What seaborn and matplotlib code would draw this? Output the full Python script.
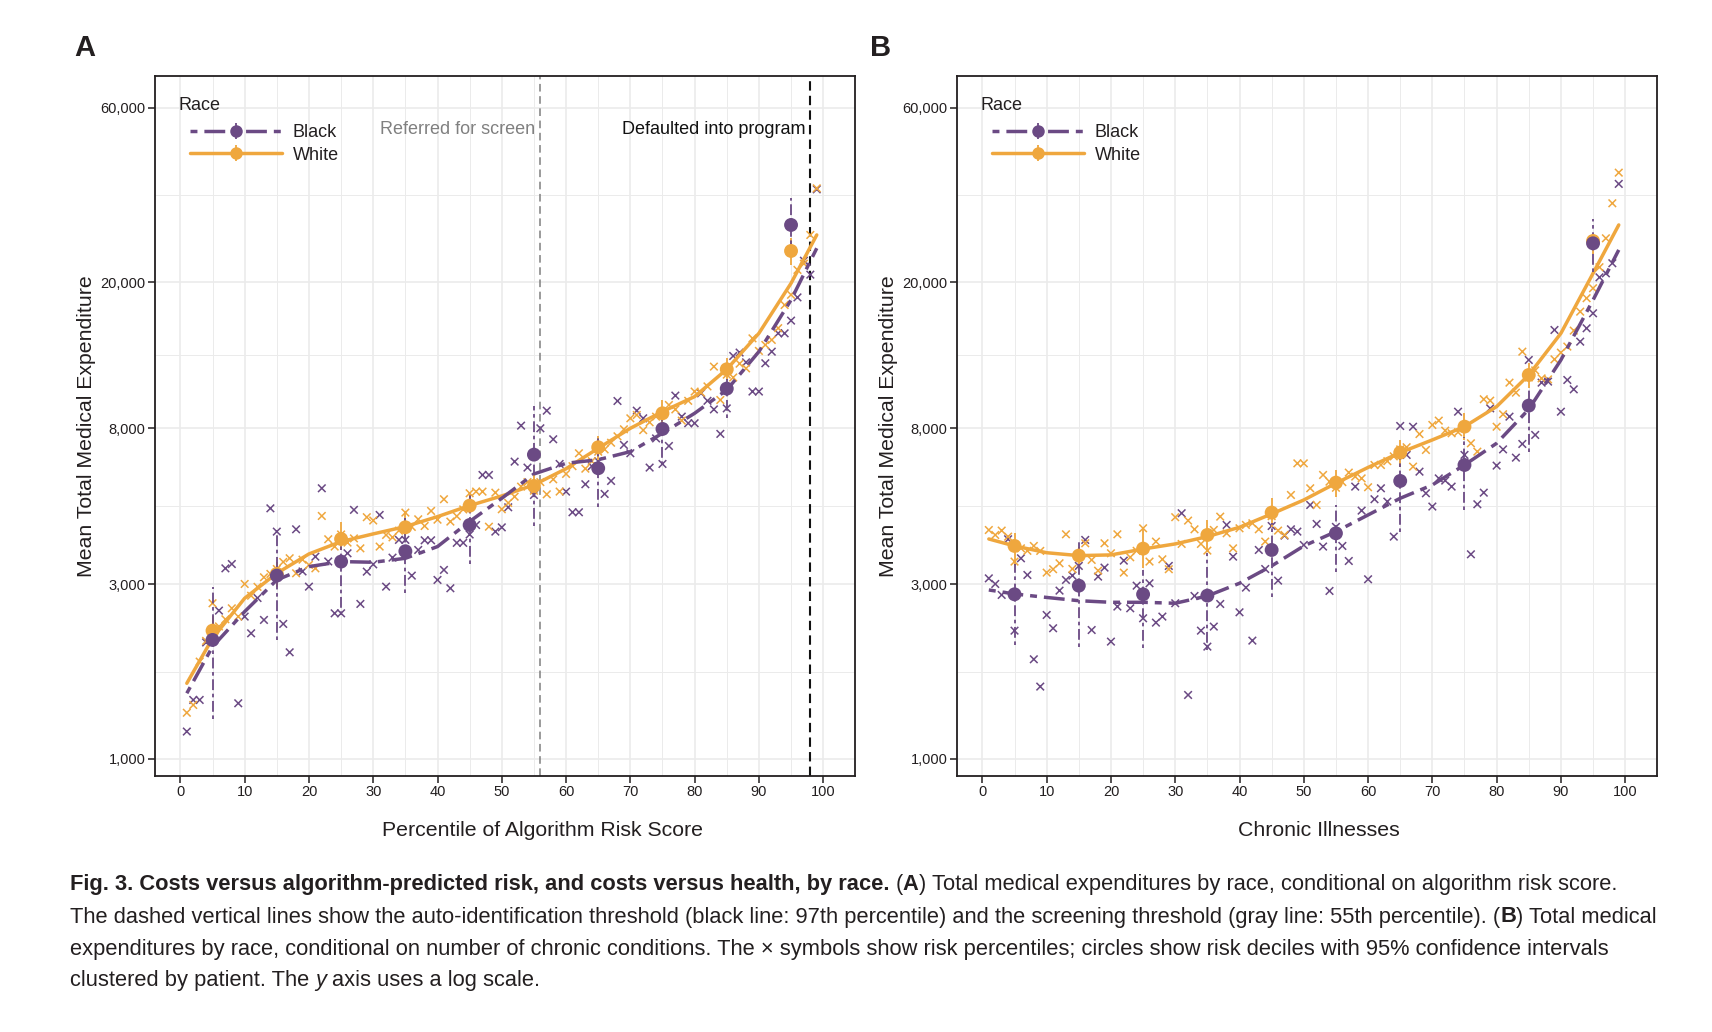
import numpy as np
import pandas as pd
import matplotlib
matplotlib.use("Agg")
import matplotlib.pyplot as plt
import seaborn as sns
from matplotlib.lines import Line2D
from matplotlib.legend_handler import HandlerTuple
from matplotlib.ticker import FixedLocator, FixedFormatter, NullFormatter
from matplotlib.transforms import IdentityTransform
from matplotlib import font_manager as fm

# ---------------- data ----------------
pct = list(range(1, 100))

A_black = [1188, 1449, 1449, 2080, 2250, 2541, 3314, 3405, 1419, 2447,
           2203, 2750, 2396, 4833, 4175, 2337, 1955, 4236, 3250, 2954,
           3566, 5482, 3460, 2498, 2498, 3643, 4786, 2650, 3246, 3398,
           4636, 2954, 3545, 3963, 3963, 3166, 3720, 3953, 3953, 3081,
           3281, 2924, 3890, 3890, 4100, 4352, 5961, 5961, 4175, 4288,
           4865, 6482, 8128, 6244, 5256, 7993, 8929, 7460, 6388, 5368,
           4715, 4715, 5623, 6300, 6500, 5290, 5741, 9490, 7200, 6832,
           8930, 8511, 6244, 7500, 6388, 7152, 9817, 8603, 8251, 8251,
           9957, 9500, 9000, 7717, 9059, 12594, 12866, 12100, 10070, 10070,
           12030, 12940, 14520, 14520, 15730, 18200, 22920, 21000, 35900]
A_white = [1337, 1404, 1844, 2100, 2661, 2300, 2406, 2578, 2447, 3004,
           2790, 2950, 3133, 3200, 3300, 3450, 3531, 3213, 3500, 3386,
           3314, 4607, 3979, 3800, 4100, 3896, 4000, 3758, 4571, 4477,
           3800, 4088, 4027, 4200, 4705, 4300, 4511, 4325, 4754, 4500,
           5117, 4446, 4600, 4800, 5313, 5370, 5368, 4306, 5333, 4805,
           5000, 5200, 5540, 5700, 5400, 5700, 5278, 5800, 5370, 6000,
           6300, 6832, 6200, 6500, 6900, 7000, 7300, 7600, 7943, 8511,
           8690, 7900, 8300, 8600, 8800, 9254, 9000, 8388, 9500, 10070,
           10000, 10400, 11780, 9550, 11200, 11000, 12000, 11650, 14070, 13000,
           13500, 13930, 15000, 17350, 18500, 21630, 22500, 26950, 36130]
B_black = [3112, 3004, 2804, 3979, 2240, 3530, 3179, 1871, 1576, 2472,
           2274, 2881, 3081, 3166, 3365, 3962, 2249, 3146, 3329, 2091,
           2606, 3479, 2578, 2972, 2421, 3017, 2356, 2447, 3365, 2661,
           4686, 1495, 2786, 2240, 2026, 2298, 2649, 4354, 3567, 2514,
           2936, 2104, 3720, 3300, 4325, 3068, 4071, 4236, 4175, 3838,
           4936, 4381, 3800, 2875, 4300, 3815, 3471, 5540, 4764, 3094,
           5117, 5482, 5041, 4045, 8110, 6761, 8072, 6086, 5313, 4887,
           5834, 5754, 5540, 8872, 6761, 3620, 4958, 5333, 9060, 6321,
           7000, 8600, 6646, 7244, 12280, 7666, 10650, 10720, 14830, 8872,
           10830, 10210, 13780, 14990, 16470, 20650, 21170, 22560, 37150]
B_white = [4217, 4088, 4202, 4045, 3458, 3758, 3700, 3815, 3698, 3226,
           3296, 3421, 4105, 3302, 3600, 3880, 3494, 3266, 3880, 3643,
           4105, 3226, 3553, 3700, 4263, 3458, 3921, 3508, 3296, 4571,
           3864, 4474, 4236, 3864, 3705, 4219, 4587, 4131, 3758, 4263,
           4354, 4400, 4236, 3921, 4600, 4202, 4088, 5256, 6412, 6412,
           5482, 4936, 5961, 5715, 5500, 5700, 6050, 5900, 5834, 5518,
           6347, 6347, 6500, 6700, 7000, 7096, 6281, 7709, 6975, 8163,
           8388, 7875, 7747, 7800, 8000, 7274, 6902, 9594, 9510, 8072,
           8730, 10650, 10000, 12940, 11000, 11500, 10940, 10870, 12330, 12860,
           13360, 14770, 16640, 18110, 19280, 22000, 26390, 32890, 39870]

deciles = [5, 15, 25, 35, 45, 55, 65, 75, 85, 95]
A_black_mean = [2113, 3166, 3458, 3690, 4352, 6773, 6218, 7960, 10257, 28700]
A_black_lo = [1285, 2113, 2472, 2833, 3406, 4335, 4865, 6347, 8511, 25500]
A_black_hi = [2954, 4217, 3900, 4540, 5313, 9218, 7586, 8700, 10900, 34000]
A_white_mean = [2240, 3200, 3986, 4290, 4915, 5563, 7094, 8784, 11582, 24370]
A_white_lo = [2050, 2950, 3720, 4088, 4684, 5250, 6551, 8250, 10830, 22310]
A_white_hi = [2450, 3450, 4446, 4733, 5370, 5950, 7635, 9550, 12410, 26390]
B_black_mean = [2815, 2972, 2815, 2792, 3720, 4131, 5741, 6347, 9218, 25570]
B_black_lo = [2048, 2018, 2005, 1985, 2775, 3246, 4175, 4786, 6900, 21400]
B_black_hi = [3400, 3962, 3281, 3643, 4396, 4936, 6975, 7586, 10170, 29730]
B_white_mean = [3815, 3590, 3751, 4088, 4705, 5680, 6861, 8077, 11175, 25950]
B_white_lo = [3386, 3380, 3314, 3720, 4306, 5200, 6281, 7430, 10280, 23900]
B_white_hi = [4131, 3800, 4290, 4493, 5148, 6150, 7430, 8784, 12030, 26800]

fit_x = [1, 5, 10, 15, 20, 25, 30, 35, 40, 45, 50, 55, 60, 65, 70, 75, 80, 85, 90, 95, 99]
A_black_fit = [1511, 2026, 2525, 3081, 3350, 3458, 3443, 3530, 3800, 4450, 5148,
               5998, 6415, 6560, 6902, 7747, 8784, 10172, 12942, 17910, 24790]
A_white_fit = [1609, 2135, 2746, 3213, 3628, 3921, 4115, 4309, 4587, 4917, 5224,
               5600, 6200, 7050, 7993, 8876, 9755, 11582, 14524, 19890, 26950]
B_black_fit = [2893, 2821, 2760, 2704, 2677, 2677, 2661, 2786, 3017, 3365, 3815,
               4175, 4636, 5148, 5598, 6347, 7274, 9008, 12280, 17900, 24530]
B_white_fit = [3986, 3815, 3656, 3590, 3606, 3742, 3864, 4046, 4290, 4666, 5093,
               5660, 6250, 6861, 7430, 8077, 9162, 11175, 14520, 21170, 28700]

races = ["Black", "White"]
xtick_vals = [0, 10, 20, 30, 40, 50, 60, 70, 80, 90, 100]
ytick_vals = [1000, 3000, 8000, 20000, 60000]
ytick_labels = ["1,000", "3,000", "8,000", "20,000", "60,000"]
screen_threshold = 56
auto_threshold = 98

# ---------------- style ----------------
PURPLE = "#6B4A84"
ORANGE = "#EFA73E"
GRID = "#EBEBEB"
INK = "#231F20"
TWODASH = (2, 2, 6, 2)
palette = {"Black": PURPLE, "White": ORANGE}

sns.set_theme(style="white")


def has_font(name):
    try:
        fm.findfont(fm.FontProperties(family=name), fallback_to_default=False)
        return True
    except Exception:
        return False


MAIN = "Liberation Sans" if has_font("Liberation Sans") else "DejaVu Sans"
NARROW = "Liberation Sans Narrow" if has_font("Liberation Sans Narrow") else MAIN
plt.rcParams["font.family"] = [MAIN, "DejaVu Sans"]

W, H = 1712, 1032
fig = plt.figure(figsize=(W / 100, H / 100), dpi=100)
fig.patch.set_facecolor("white")


def px_axes(left, top, right, bottom):
    return fig.add_axes([left / W, 1 - bottom / H, (right - left) / W, (bottom - top) / H])


axA = px_axes(155, 76, 855, 775.7)
axB = px_axes(957, 76, 1657, 775.7)


def draw_panel(ax, pts_b, pts_w, fit_b, fit_w, mb, lb, hb, mw, lw_, hw, xlabel, xlab_pos):
    ax.set_yscale("log")
    ax.set_xlim(-3.95, 104.95)
    ax.set_ylim(900, 73200)

    # percentile scatter (x markers)
    pts = pd.DataFrame({"x": pct + pct, "y": pts_b + pts_w,
                        "race": ["Black"] * len(pct) + ["White"] * len(pct)})
    sns.scatterplot(data=pts, x="x", y="y", hue="race", palette=palette,
                    marker="x", s=30, linewidth=1.1, legend=False, ax=ax, zorder=3)

    # smooth fits
    fits = pd.DataFrame({"x": fit_x + fit_x, "y": fit_w + fit_b,
                         "race": ["White"] * len(fit_x) + ["Black"] * len(fit_x)})
    sns.lineplot(data=fits, x="x", y="y", hue="race", style="race",
                 hue_order=["White", "Black"], style_order=["White", "Black"],
                 palette=palette, dashes={"White": "", "Black": TWODASH},
                 linewidth=2.5, errorbar=None, legend=False, ax=ax, zorder=4)

    # decile confidence intervals
    ax.vlines(deciles, lw_, hw, colors=ORANGE, linewidth=1.3, zorder=5)
    ax.vlines(deciles, lb, hb, colors=PURPLE, linewidth=1.3,
              linestyles=[(0, TWODASH)], zorder=6)

    dec = pd.DataFrame({"x": deciles + deciles, "y": mw + mb,
                        "race": ["White"] * len(deciles) + ["Black"] * len(deciles)})
    sns.scatterplot(data=dec, x="x", y="y", hue="race", palette=palette,
                    marker="o", s=100, edgecolor="none", linewidth=0,
                    legend=False, ax=ax, zorder=7)

    # axes styling
    ax.xaxis.set_major_locator(FixedLocator(xtick_vals))
    ax.xaxis.set_minor_locator(FixedLocator([v + 5 for v in xtick_vals[:-1]]))
    ax.yaxis.set_major_locator(FixedLocator(ytick_vals))
    ax.yaxis.set_major_formatter(FixedFormatter(ytick_labels))
    mids = [float(np.sqrt(a * b)) for a, b in zip(ytick_vals[:-1], ytick_vals[1:])]
    ax.yaxis.set_minor_locator(FixedLocator(mids))
    ax.yaxis.set_minor_formatter(NullFormatter())
    ax.xaxis.set_minor_formatter(NullFormatter())
    ax.grid(which="major", color=GRID, linewidth=1.2)
    ax.grid(which="minor", color=GRID, linewidth=0.7)
    ax.set_axisbelow(True)
    for s in ax.spines.values():
        s.set_color(INK)
        s.set_linewidth(1.3)
        s.set_visible(True)
    ax.tick_params(which="major", left=True, bottom=True, top=False, right=False,
                   direction="out", length=5, width=1.1, color=INK,
                   labelsize=10.5, labelcolor=INK, pad=2)
    ax.tick_params(which="minor", length=0)
    ax.set_xlabel(xlabel, fontsize=15.3, color=INK)
    ax.set_ylabel("Mean Total Medical Expenditure", fontsize=15.3, color=INK)
    ax.xaxis.label.set_va("center")
    ax.xaxis.set_label_coords(xlab_pos, (775.7 - 830) / 699.7)
    ax.yaxis.label.set_va("center")
    ax.yaxis.set_label_coords(-0.098, 0.5)

    # legend
    ax.text(0.034, (775.7 - 105) / 699.7, "Race", transform=ax.transAxes,
            ha="left", va="center", fontsize=13, color=INK)
    hb_ = (Line2D([], [], color=PURPLE, lw=2.5, ls=(0, TWODASH)),
           Line2D([], [], color=PURPLE, marker="|", ms=12, mew=1.3, ls="none"),
           Line2D([], [], color=PURPLE, marker="o", ms=9, mec="none", ls="none"))
    hw_ = (Line2D([], [], color=ORANGE, lw=2.5),
           Line2D([], [], color=ORANGE, marker="|", ms=12, mew=1.3, ls="none"),
           Line2D([], [], color=ORANGE, marker="o", ms=9, mec="none", ls="none"))
    leg = ax.legend([hb_, hw_], races, handler_map={tuple: HandlerTuple(ndivide=1, pad=0)},
                    loc="upper left", bbox_to_anchor=(0.05, (775.7 - 124) / 699.7),
                    frameon=False, fontsize=13, handlelength=5.1, handletextpad=0.6,
                    labelspacing=0.32, borderpad=0, borderaxespad=0)
    for t in leg.get_texts():
        t.set_color(INK)


draw_panel(axA, A_black, A_white, A_black_fit, A_white_fit,
           A_black_mean, A_black_lo, A_black_hi,
           A_white_mean, A_white_lo, A_white_hi,
           "Percentile of Algorithm Risk Score", 0.554)
draw_panel(axB, B_black, B_white, B_black_fit, B_white_fit,
           B_black_mean, B_black_lo, B_black_hi,
           B_white_mean, B_white_lo, B_white_hi,
           "Chronic Illnesses", 0.517)

# thresholds in panel A
axA.axvline(screen_threshold, color="#7F7F7F", linewidth=1.1, ls=(0, (5, 3)), zorder=2)
axA.axvline(auto_threshold, color="#111111", linewidth=1.5, ls=(0, (4.5, 2.5)), zorder=2)
yfrac = (775.7 - 130) / 699.7
axA.annotate("Referred for screen", xy=(screen_threshold, yfrac),
             xycoords=("data", "axes fraction"), xytext=(-3.5, 0),
             textcoords="offset points", ha="right", va="center",
             fontsize=13, color="#808080")
axA.annotate("Defaulted into program", xy=(auto_threshold, yfrac),
             xycoords=("data", "axes fraction"), xytext=(-3.2, 0),
             textcoords="offset points", ha="right", va="center",
             fontsize=13, color="#111111")

# panel letters
cond_bold = dict(family=[NARROW, "DejaVu Sans"], weight="bold", fontsize=21, color=INK,
                 ha="center", va="center")
fig.text(84.5 / W, 1 - 47.5 / H, "A", **cond_bold)
fig.text(881 / W, 1 - 47.5 / H, "B", **cond_bold)

# ---------------- caption ----------------
renderer = fig.canvas.get_renderer()
cap_lines = [
    [("Fig. 3. Costs versus algorithm-predicted risk, and costs versus health, by race.", "bold", "normal"),
     (" (", "normal", "normal"), ("A", "bold", "normal"),
     (") Total medical expenditures by race, conditional on algorithm risk score.", "normal", "normal")],
    [("The dashed vertical lines show the auto-identification threshold (black line: 97th percentile) "
      "and the screening threshold (gray line: 55th percentile). (", "normal", "normal"),
     ("B", "bold", "normal"), (") Total medical", "normal", "normal")],
    [("expenditures by race, conditional on number of chronic conditions. The \u00d7 symbols show risk "
      "percentiles; circles show risk deciles with 95% confidence intervals", "normal", "normal")],
    [("clustered by patient. The ", "normal", "normal"), ("y", "normal", "italic"),
     (" axis uses a log scale.", "normal", "normal")],
]
cap_y = [884.5, 917, 949, 980.6]
cap_x0 = 70


def measure(s, fs, weight="normal", style="normal"):
    t = fig.text(0, 0, s, fontsize=fs, family=[NARROW, "DejaVu Sans"], weight=weight,
                 style=style, transform=IdentityTransform())
    w = t.get_window_extent(renderer).width
    t.remove()
    return w


def place_line(segs, x0, ypix, fs, keep=True):
    sw = measure("n n", fs) - measure("nn", fs)
    x = x0
    for s, wt, st in segs:
        lead = len(s) - len(s.lstrip(" "))
        trail = len(s) - len(s.rstrip(" "))
        core = s.strip(" ")
        x += lead * sw
        t = fig.text(x, H - ypix, core, fontsize=fs, family=[NARROW, "DejaVu Sans"],
                     weight=wt, style=st, color=INK, ha="left", va="center",
                     transform=IdentityTransform())
        x += t.get_window_extent(renderer).width + trail * sw
        if not keep:
            t.remove()
    return x - x0


base = 16.0
w2 = place_line(cap_lines[1], cap_x0, cap_y[1], base, keep=False)
fs_cap = base * 1590.0 / w2
for segs, yy in zip(cap_lines, cap_y):
    place_line(segs, cap_x0, yy, fs_cap)

fig.savefig("out.png", dpi=100, facecolor="white")
